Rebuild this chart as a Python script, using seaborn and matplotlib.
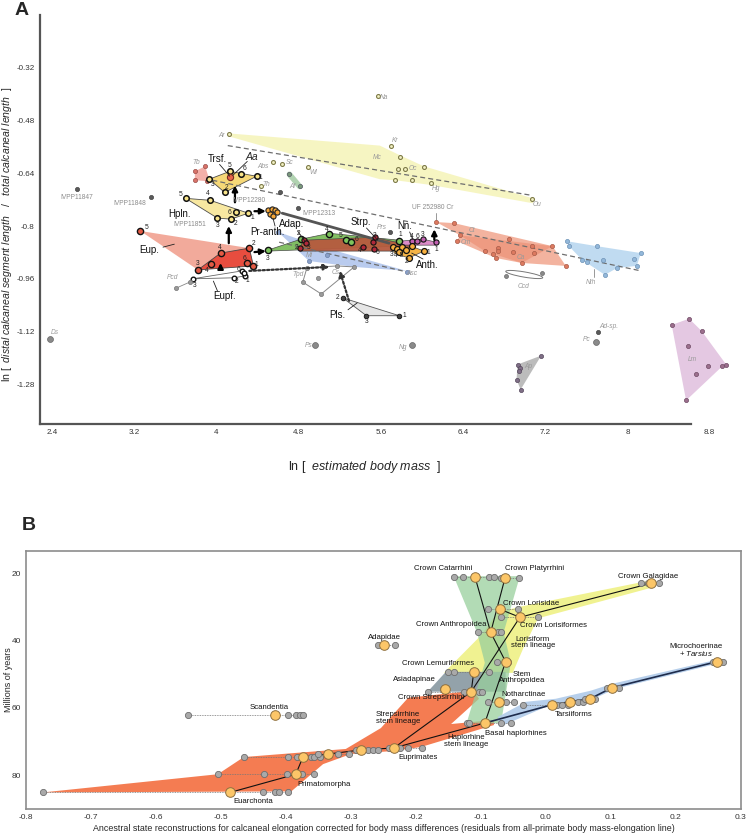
import matplotlib
matplotlib.use("Agg")
import matplotlib.pyplot as plt
from matplotlib.patches import Ellipse
import seaborn as sns

sns.set_theme(style="white")
plt.rcParams["font.family"] = ["Liberation Sans", "DejaVu Sans"]
plt.rcParams["mathtext.fontset"] = "custom"
plt.rcParams["mathtext.rm"] = "Liberation Sans"
plt.rcParams["mathtext.it"] = "Liberation Sans:italic"

# ---------------- panel A data (ln body mass vs ln elongation) ----------------
omo_hull_x = [4.12, 5.59, 5.79, 6.02, 7.08, 7.08, 6.10, 5.74, 5.59, 4.12]
omo_hull_y = [-0.519, -0.556, -0.586, -0.619, -0.716, -0.731, -0.676, -0.661, -0.658, -0.528]
omo_x = [4.12, 4.55, 4.64, 4.89, 5.57, 5.70, 5.79, 5.77, 5.83, 6.02, 5.74, 5.90, 6.09, 7.07, 4.43]
omo_y = [-0.522, -0.607, -0.613, -0.622, -0.405, -0.556, -0.592, -0.628, -0.628, -0.622,
         -0.661, -0.661, -0.670, -0.719, -0.680]

omo_fit_x = [4.11, 7.07]
omo_fit_y = [-0.556, -0.707]
all_fit_x = [3.96, 8.13]
all_fit_y = [-0.661, -0.936]
mi_fit_x = [4.61, 5.85]
mi_fit_y = [-0.849, -0.939]

ct_hull_x = [6.14, 6.31, 7.27, 7.40, 6.97, 6.72, 6.34, 6.37]
ct_hull_y = [-0.788, -0.791, -0.861, -0.921, -0.912, -0.897, -0.846, -0.828]
ct_core_x = [6.37, 7.27, 6.97, 6.61]
ct_core_y = [-0.828, -0.861, -0.912, -0.876]
ct_x = ct_hull_x + [6.85, 6.74, 6.74, 6.61, 6.69, 6.89, 7.07, 7.09]
ct_y = ct_hull_y + [-0.840, -0.867, -0.876, -0.876, -0.885, -0.879, -0.861, -0.882]

nth_hull_x = [7.41, 7.70, 8.13, 8.09, 7.90, 7.78, 7.56, 7.43]
nth_hull_y = [-0.846, -0.861, -0.882, -0.921, -0.927, -0.948, -0.903, -0.861]
nth_x = nth_hull_x + [8.06, 7.76, 7.61]
nth_y = nth_hull_y + [-0.900, -0.903, -0.909]

lm_hull_x = [8.43, 8.60, 8.72, 8.96, 8.92, 8.57]
lm_hull_y = [-1.100, -1.081, -1.118, -1.220, -1.226, -1.329]
lm_x = lm_hull_x + [8.59, 8.78, 8.67]
lm_y = lm_hull_y + [-1.163, -1.226, -1.250]

ap_hull_x = [6.93, 7.16, 6.96, 6.92]
ap_hull_y = [-1.220, -1.193, -1.296, -1.266]
ap_x = ap_hull_x + [6.95, 6.94]
ap_y = ap_hull_y + [-1.232, -1.241]

ccd_x = [6.82, 7.17]
ccd_y = [-0.951, -0.942]

solo_x = [7.71, 5.69, 2.64, 3.36, 4.62, 4.79]
solo_y = [-1.121, -0.818, -0.689, -0.713, -0.698, -0.746]
big_solo_x = [7.69, 5.90, 4.96, 2.38]
big_solo_y = [-1.151, -1.160, -1.160, -1.142]

tb_x = [3.79, 3.89, 3.93, 3.91, 3.79]
tb_y = [-0.634, -0.619, -0.658, -0.664, -0.661]
af_x = [4.71, 4.81]
af_y = [-0.643, -0.680]

trsf_hull_x = [3.93, 4.13, 4.39, 4.08]
trsf_hull_y = [-0.658, -0.634, -0.649, -0.698]
trsf_x = [3.93, 4.13, 4.24, 4.39, 4.08]
trsf_y = [-0.658, -0.634, -0.643, -0.649, -0.698]
aa_x = [4.13]
aa_y = [-0.652]

hpln_hull_x = [3.70, 3.94, 4.31, 4.14, 4.01]
hpln_hull_y = [-0.716, -0.722, -0.761, -0.779, -0.776]
hpln_x = [3.70, 3.94, 4.19, 4.31, 4.14, 4.01]
hpln_y = [-0.716, -0.722, -0.758, -0.761, -0.779, -0.776]

pra_x = [4.50, 4.54, 4.57, 4.52, 4.55, 4.59]
pra_y = [-0.752, -0.749, -0.752, -0.764, -0.770, -0.758]

eup_hull_x = [3.26, 4.32, 4.36, 3.82]
eup_hull_y = [-0.815, -0.867, -0.921, -0.933]
eupr_hull_x = [3.82, 4.04, 4.32, 4.36]
eupr_hull_y = [-0.933, -0.882, -0.867, -0.921]
eup_x = [3.26, 4.32, 4.36, 3.82, 4.04, 4.30, 3.95]
eup_y = [-0.815, -0.867, -0.921, -0.933, -0.882, -0.912, -0.915]

eupf_x = [3.77, 4.25, 4.28, 4.17, 4.27]
eupf_y = [-0.960, -0.936, -0.951, -0.957, -0.942]
pcd_x = [3.61, 3.74, 3.77]
pcd_y = [-0.988, -0.970, -0.960]

adap_hull_x = [4.50, 4.82, 5.10, 5.78, 5.78, 4.50]
adap_hull_y = [-0.873, -0.840, -0.822, -0.843, -0.861, -0.876]
adap_x = [4.50, 4.82, 5.10, 5.26, 5.31, 5.78]
adap_y = [-0.873, -0.840, -0.825, -0.843, -0.849, -0.846]

strp_hull_x = [4.81, 4.85, 5.53, 5.88, 5.88, 4.81]
strp_hull_y = [-0.867, -0.843, -0.834, -0.858, -0.876, -0.876]
strp_x = [4.85, 4.87, 4.81, 5.43, 5.53, 5.52, 5.54]
strp_y = [-0.843, -0.852, -0.867, -0.864, -0.870, -0.849, -0.834]

nn_hull_x = [5.78, 6.01, 6.14, 6.14, 5.78]
nn_hull_y = [-0.846, -0.840, -0.849, -0.858, -0.858]
nn_x = [5.90, 5.95, 6.01, 6.14]
nn_y = [-0.846, -0.846, -0.840, -0.849]

anth_hull_x = [5.72, 5.92, 6.02, 5.87, 5.73]
anth_hull_y = [-0.864, -0.864, -0.876, -0.897, -0.882]
anth_x = [5.72, 5.76, 5.81, 5.78, 5.84, 5.87, 6.02, 5.90]
anth_y = [-0.864, -0.870, -0.864, -0.879, -0.873, -0.897, -0.876, -0.861]

mi_hull_x = [4.60, 5.00, 5.85, 5.34, 4.90]
mi_hull_y = [-0.818, -0.861, -0.936, -0.924, -0.906]
mi_x = [4.60, 4.90, 5.08, 5.85]
mi_y = [-0.818, -0.906, -0.888, -0.939]

tpd_x = [4.88, 5.17, 5.34, 5.02, 4.84]
tpd_y = [-0.927, -0.921, -0.924, -1.006, -0.970]
tpd_in_x = [4.99]
tpd_in_y = [-0.957]

pls_x = [5.23, 5.78, 5.46]
pls_y = [-1.018, -1.072, -1.072]

arrow_x0 = [4.18, 4.12, 4.37, 4.37, 6.12, 4.04]
arrow_y0 = [-0.728, -0.852, -0.755, -0.879, -0.842, -0.932]
arrow_x1 = [4.18, 4.12, 4.48, 4.48, 6.12, 4.04]
arrow_y1 = [-0.677, -0.800, -0.755, -0.876, -0.810, -0.912]

dot_arrow_x0 = [4.32, 5.29]
dot_arrow_y0 = [-0.936, -1.027]
dot_arrow_x1 = [5.10, 5.20]
dot_arrow_y1 = [-0.924, -0.936]

thick_x = [4.64, 5.68]
thick_y = [-0.761, -0.852]

lead_x0 = [4.03, 4.30, 4.01, 4.79, 5.46, 5.88, 6.01, 4.57, 3.48, 5.28]
lead_y0 = [-0.613, -0.604, -0.997, -0.815, -0.806, -0.818, -0.900, -0.800, -0.864, -1.054]
lead_x1 = [4.13, 4.16, 3.97, 4.86, 5.57, 5.91, 5.90, 4.55, 3.59, 5.37]
lead_y1 = [-0.649, -0.646, -0.967, -0.846, -0.843, -0.840, -0.882, -0.776, -0.855, -1.033]

clade_lab = ["Trsf.", "Hpln.", "Pr-anth.", "Adap.", "Strp.", "Nn.", "Anth.", "Eup.", "Eupf.", "Pls."]
clade_lab_x = [4.01, 3.64, 4.50, 4.73, 5.40, 5.83, 6.05, 3.35, 4.08, 5.18]
clade_lab_y = [-0.598, -0.764, -0.818, -0.795, -0.788, -0.800, -0.918, -0.873, -1.012, -1.069]

num_lab = ["5", "6", "1", "3", "2",
           "5", "4", "6", "1", "2", "3",
           "5", "2", "4", "6", "1", "3", "4",
           "6", "2", "1", "3",
           "3", "2", "4", "5", "6", "2", "3", "4", "6", "2",
           "1", "4", "6", "3", "1",
           "3", "4 5", "2", "1",
           "2", "3", "1"]
num_x = [4.13, 4.27, 4.43, 3.96, 4.10,
         3.65, 3.92, 4.13, 4.35, 4.19, 4.01,
         3.32, 4.36, 4.03, 4.27, 4.39, 3.82, 3.91,
         4.21, 4.20, 4.30, 3.79,
         4.50, 4.80, 5.07, 5.21, 5.36, 4.78, 4.90, 5.39, 5.57, 5.54,
         5.79, 5.90, 5.96, 6.01, 6.14,
         5.70, 5.77, 5.85, 6.06,
         5.18, 5.46, 5.83]
num_y = [-0.616, -0.625, -0.652, -0.674, -0.683,
         -0.704, -0.701, -0.758, -0.773, -0.792, -0.798,
         -0.803, -0.852, -0.864, -0.897, -0.918, -0.915, -0.936,
         -0.933, -0.967, -0.964, -0.980,
         -0.897, -0.822, -0.809, -0.828, -0.840, -0.864, -0.864, -0.873, -0.879, -0.829,
         -0.825, -0.831, -0.831, -0.825, -0.870,
         -0.885, -0.888, -0.909, -0.879,
         -1.018, -1.090, -1.072]

taxon_lab = ["Na", "Kr", "Mc", "Oc", "Hg", "Ou", "Ar", "Abs", "Sc", "Wi", "Th", "Af", "Tb",
             "Ct", "Cm", "Ca", "Nth", "Ccd", "Lm", "Ap", "Ad-sp.", "Pc", "Ng", "Ps", "Ds",
             "Prs", "Mi", "Asc", "Tpd", "Cs", "Pcd"]
taxon_x = [5.63, 5.74, 5.56, 5.91, 6.14, 7.12, 4.05, 4.45, 4.71, 4.94, 4.48, 4.74, 3.80,
           6.49, 6.43, 6.96, 7.64, 6.99, 8.63, 7.03, 7.82, 7.60, 5.82, 4.90, 2.43,
           5.61, 4.90, 5.90, 4.79, 5.16, 3.57]
taxon_y = [-0.411, -0.541, -0.592, -0.625, -0.686, -0.734, -0.525, -0.619, -0.607, -0.637,
           -0.674, -0.680, -0.607, -0.815, -0.849, -0.894, -0.970, -0.984, -1.205, -1.226,
           -1.106, -1.145, -1.169, -1.163, -1.124, -0.805, -0.888, -0.945, -0.948, -0.942,
           -0.957]

spec_lab = ["IVPP11847", "IVPP11848", "IVPP12280", "IVPP12313", "IVPP11851", "UF 252980 Cr"]
spec_x = [2.64, 3.16, 4.32, 5.00, 3.74, 6.10]
spec_y = [-0.713, -0.731, -0.722, -0.761, -0.795, -0.743]

a_xticks = [2.4, 3.2, 4, 4.8, 5.6, 6.4, 7.2, 8, 8.8]
a_xticklabels = ["2.4", "3.2", "4", "4.8", "5.6", "6.4", "7.2", "8", "8.8"]
a_yticks = [-0.32, -0.48, -0.64, -0.8, -0.96, -1.12, -1.28]
a_yticklabels = ["-0.32", "-0.48", "-0.64", "-0.8", "-0.96", "-1.12", "-1.28"]

# ---------------- panel B data (ancestral state reconstructions) ----------------
node_name = ["Euarchonta", "Primatomorpha", "", "", "", "Euprimates", "Scandentia",
             "Adapidae", "Crown Catarrhini", "Crown Platyrrhini", "Crown Lorisidae",
             "Crown Lorisiformes", "Crown Galagidae", "Crown Anthropoidea",
             "Stem Anthropoidea", "Crown Lemuriformes", "Asiadapinae", "Crown Strepsirrhini",
             "Notharctinae", "Basal haplorhines", "Tarsiiforms", "", "", "", "Microchoerinae"]
node_x = [-0.486, -0.385, -0.374, -0.335, -0.285, -0.234, -0.417, -0.249, -0.109, -0.063,
          -0.071, -0.040, 0.162, -0.085, -0.062, -0.111, -0.155, -0.115, -0.072, -0.094,
          0.009, 0.037, 0.068, 0.102, 0.263]
node_y = [85.1, 79.7, 74.6, 73.7, 72.5, 71.9, 62.1, 41.2, 21.2, 21.5, 30.7, 33.1, 23.0,
          37.6, 46.3, 49.3, 54.3, 55.2, 58.2, 64.5, 59.1, 58.2, 57.3, 54.0, 46.3]
tip_x = [[-0.774, -0.435, -0.417, -0.411, -0.397],
         [-0.505, -0.434, -0.398, -0.375, -0.357],
         [-0.465, -0.397, -0.383, -0.362, -0.357, -0.348],
         [-0.351, -0.320, -0.303],
         [-0.292, -0.274, -0.266, -0.258],
         [-0.242, -0.225, -0.212, -0.191],
         [-0.551, -0.397, -0.385, -0.378, -0.374],
         [-0.258, -0.232],
         [-0.142, -0.128, -0.088, -0.080],
         [-0.069, -0.042],
         [-0.089, -0.043],
         [-0.069, -0.012],
         [0.146, 0.157, 0.174],
         [-0.105, -0.074, -0.069],
         [-0.075, -0.058],
         [-0.151, -0.142, -0.088],
         [-0.158],
         [-0.182, -0.126, -0.103, -0.098],
         [-0.089, -0.062, -0.049],
         [-0.122, -0.118, -0.069, -0.054],
         [-0.035, 0.017, 0.025, 0.034],
         [0.049, 0.057],
         [0.060, 0.075],
         [0.094, 0.112],
         [0.257, 0.272]]
edge_from = [0, 1, 2, 3, 4, 5, 5, 17, 17, 11, 11, 19, 14, 13, 13, 19, 20, 21, 22, 23]
edge_to = [1, 2, 3, 4, 5, 17, 19, 15, 11, 10, 12, 14, 13, 8, 9, 20, 21, 22, 23, 24]

orange_x = [-0.774, -0.505, -0.465, -0.308, -0.254, -0.212, -0.111, -0.103, -0.146, -0.080,
            -0.080, -0.192, -0.234, -0.300, -0.343, -0.392]
orange_y = [85.1, 79.7, 74.6, 72.2, 66.0, 57.0, 54.9, 57.3, 64.8, 63.6, 65.1, 71.6, 72.8,
            73.7, 76.7, 84.8]
yellow_x = [-0.157, -0.100, -0.074, -0.038, 0.162, 0.165, -0.012, -0.035, -0.051]
yellow_y = [49.6, 38.5, 31.6, 29.9, 22.1, 24.2, 33.4, 42.4, 49.6]
slate_x = [-0.182, -0.154, -0.062, -0.062]
slate_y = [55.2, 49.3, 49.3, 55.2]
green_x = [-0.142, -0.040, -0.065, -0.054, -0.069, -0.122, -0.094, -0.106]
green_y = [20.9, 20.9, 37.6, 46.6, 64.5, 64.5, 46.6, 37.6]
blue_x = [-0.072, 0.000, 0.077, 0.108, 0.263, 0.263, 0.103, 0.069, 0.015, -0.031, -0.074]
blue_y = [65.7, 59.7, 57.0, 54.3, 46.9, 45.7, 52.8, 54.9, 57.3, 58.2, 62.7]

b_lab = ["Crown Catarrhini", "Crown Platyrrhini", "Crown Galagidae", "Crown Lorisidae",
         "Crown Lorisiformes", "Crown Anthropoidea", "Lorisiform\nstem lineage", "Adapidae",
         "Microchoerinae", "+ $\\mathit{Tarsius}$", "Crown Lemuriformes", "Stem\nAnthropoidea",
         "Asiadapinae", "Crown Strepsirrhini", "Notharctinae", "Strepsirrhine\nstem lineage",
         "Tarsiiforms", "Basal haplorhines", "Haplorhine\nstem lineage", "Euprimates",
         "Scandentia", "Primatomorpha", "Euarchonta"]
b_lab_x = [-0.158, -0.018, 0.157, -0.023, 0.011, -0.146, -0.020, -0.249, 0.231, 0.231,
           -0.166, -0.037, -0.202, -0.177, -0.034, -0.228, 0.043, -0.046, -0.123, -0.197,
           -0.426, -0.342, -0.451]
b_lab_y = [18.5, 18.5, 20.9, 29.0, 35.5, 35.2, 40.6, 39.1, 41.8, 43.9, 46.9, 51.0, 51.6,
           57.0, 56.1, 63.0, 62.1, 67.5, 69.9, 74.6, 60.0, 82.7, 87.8]

b_xticks = [-0.8, -0.7, -0.6, -0.5, -0.4, -0.3, -0.2, -0.1, 0, 0.1, 0.2, 0.3]
b_xticklabels = ["-0.8", "-0.7", "-0.6", "-0.5", "-0.4", "-0.3", "-0.2", "-0.1", "0.0",
                 "0.1", "0.2", "0.3"]
b_yticks = [20, 40, 60, 80]


def hull(ax, xs, ys, color, alpha=1.0, edge="none", lw=0.6, z=1):
    ax.fill(xs, ys, facecolor=color, edgecolor=edge, alpha=alpha, lw=lw, zorder=z)


def dots(ax, xs, ys, face, edge, size, lw=0.6, z=4):
    sns.scatterplot(x=xs, y=ys, ax=ax, s=size, color=face, edgecolor=edge,
                    linewidth=lw, zorder=z, legend=False)


fig = plt.figure(figsize=(7.49, 8.36), dpi=100)
axA = fig.add_axes([0.053, 0.493, 0.922, 0.489])
axB = fig.add_axes([0.035, 0.032, 0.954, 0.309])

# ---------------- panel A ----------------
ax = axA
hull(ax, omo_hull_x, omo_hull_y, "#f4f2ae", 0.75)
hull(ax, ct_hull_x, ct_hull_y, "#f2a68e", 0.85)
hull(ax, ct_core_x, ct_core_y, "#ec8c70", 0.6)
hull(ax, nth_hull_x, nth_hull_y, "#b9d8f0", 0.9)
hull(ax, lm_hull_x, lm_hull_y, "#e3c5e1", 0.95)
hull(ax, ap_hull_x, ap_hull_y, "#b9b9b9", 0.95)
hull(ax, tb_x, tb_y, "#f2a8a0", 0.9)
hull(ax, trsf_hull_x, trsf_hull_y, "#f6d670", 0.95, edge="#444", lw=0.6)
hull(ax, hpln_hull_x, hpln_hull_y, "#f8e79c", 0.95, edge="#444", lw=0.6)
hull(ax, eup_hull_x, eup_hull_y, "#f2a696", 0.95)
hull(ax, eupr_hull_x, eupr_hull_y, "#e8483a", 0.95, edge="#444", lw=0.6)
hull(ax, mi_hull_x, mi_hull_y, "#a8bfea", 0.8)
hull(ax, adap_hull_x, adap_hull_y, "#7cbd5c", 0.95, edge="#444", lw=0.5, z=2)
hull(ax, strp_hull_x, strp_hull_y, "#b65a3e", 0.95, edge="#444", lw=0.5, z=2)
hull(ax, nn_hull_x, nn_hull_y, "#d985c6", 0.95, edge="#444", lw=0.5, z=2)
hull(ax, anth_hull_x, anth_hull_y, "#f5b03c", 0.95, edge="#444", lw=0.5, z=2)
hull(ax, pls_x, pls_y, "#e6e6e6", 1.0, edge="#555", lw=0.6)
hull(ax, tpd_x, tpd_y, "none", 1.0, edge="#888", lw=0.7)
hull(ax, eupf_x[:4], eupf_y[:4], "none", 1.0, edge="#666", lw=0.6)
ax.plot(pcd_x, pcd_y, color="#888", lw=0.6, zorder=2)
ax.plot(af_x, af_y, color="#8fc08f", lw=4, alpha=0.7, solid_capstyle="round", zorder=2)
ax.add_patch(Ellipse((6.995, -0.947), 0.36, 0.016, angle=-3, facecolor="none",
                     edgecolor="#777", lw=0.7, zorder=2))

for fx, fy in [(omo_fit_x, omo_fit_y), (all_fit_x, all_fit_y), (mi_fit_x, mi_fit_y)]:
    ax.plot(fx, fy, ls=(0, (4, 2.5)), color="#6e6e6e", lw=0.9, zorder=3)
ax.plot(thick_x, thick_y, color="#555", lw=2.0, zorder=3)

dots(ax, omo_x, omo_y, "#f3f1c4", "#7d7a48", 8, 0.8)
dots(ax, ct_x, ct_y, "#dd7a60", "#a65a48", 9, 0.5)
dots(ax, nth_x, nth_y, "#93b8da", "#6d92b6", 9, 0.5)
dots(ax, lm_x, lm_y, "#9c6f8d", "#6e4a64", 9, 0.5)
dots(ax, ap_x, ap_y, "#7f6f86", "#55475c", 9, 0.5)
dots(ax, ccd_x, ccd_y, "#8a8a8a", "#666", 8, 0.5)
dots(ax, solo_x, solo_y, "#5a5a5a", "#444", 9, 0.5)
dots(ax, big_solo_x, big_solo_y, "#8a8a8a", "#666", 18, 0.5)
dots(ax, tb_x[:2] + tb_x[3:], tb_y[:2] + tb_y[3:], "#d9736a", "#9a4e48", 9, 0.5)
dots(ax, af_x, af_y, "#7a9a7a", "#556", 9, 0.5)
dots(ax, trsf_x, trsf_y, "#f8e48a", "#111", 16, 1.1)
dots(ax, aa_x, aa_y, "#e8664a", "#7a2a20", 20, 0.8)
dots(ax, hpln_x, hpln_y, "#f8e48a", "#111", 16, 1.1)
dots(ax, pra_x, pra_y, "#f6a838", "#222", 14, 0.8)
dots(ax, eup_x, eup_y, "#e45a44", "#111", 20, 1.0)
dots(ax, eupf_x, eupf_y, "white", "#111", 11, 1.0)
dots(ax, pcd_x[:2], pcd_y[:2], "#9a9a9a", "#777", 9, 0.5)
dots(ax, mi_x, mi_y, "#8aa0c8", "#6a80a8", 9, 0.5)
dots(ax, adap_x, adap_y, "#7cc45c", "#111", 20, 1.0, z=5)
dots(ax, strp_x, strp_y, "#b0283a", "#111", 14, 0.8, z=5)
dots(ax, nn_x, nn_y, "#c060b0", "#111", 14, 0.8, z=5)
dots(ax, anth_x, anth_y, "#f7b040", "#111", 18, 0.9, z=6)
dots(ax, tpd_x + tpd_in_x, tpd_y + tpd_in_y, "#9a9a9a", "#777", 9, 0.5)
dots(ax, pls_x, pls_y, "#444", "#111", 11, 0.6)

for x0, y0, x1, y1 in zip(arrow_x0, arrow_y0, arrow_x1, arrow_y1):
    ax.annotate("", xy=(x1, y1), xytext=(x0, y0),
                arrowprops=dict(arrowstyle="-|>", color="black", lw=1.6,
                                mutation_scale=8, shrinkA=0, shrinkB=0), zorder=7)
for x0, y0, x1, y1 in zip(dot_arrow_x0, dot_arrow_y0, dot_arrow_x1, dot_arrow_y1):
    ax.annotate("", xy=(x1, y1), xytext=(x0, y0),
                arrowprops=dict(arrowstyle="-|>", color="#333", lw=1.6, ls=(0, (1, 1)),
                                mutation_scale=8, shrinkA=0, shrinkB=0), zorder=7)
for x0, y0, x1, y1 in zip(lead_x0, lead_y0, lead_x1, lead_y1):
    ax.plot([x0, x1], [y0, y1], color="#222", lw=0.6, zorder=6)
ax.plot([6.14, 6.14], [-0.761, -0.785], color="#888", lw=0.6)
ax.plot([7.67, 7.67], [-0.930, -0.954], color="#888", lw=0.6)

for t, x, y in zip(clade_lab, clade_lab_x, clade_lab_y):
    ax.text(x, y, t, fontsize=7, ha="center", va="center", color="#111", zorder=8)
ax.text(4.34, -0.592, "Aa", fontsize=7.5, style="italic", ha="center", va="center", zorder=8)
for t, x, y in zip(num_lab, num_x, num_y):
    ax.text(x, y, t, fontsize=4.8, ha="center", va="center", color="#222", zorder=8)
for t, x, y in zip(taxon_lab, taxon_x, taxon_y):
    ax.text(x, y, t, fontsize=4.8, style="italic", ha="center", va="center", color="#999",
            zorder=8)
for t, x, y in zip(spec_lab, spec_x, spec_y):
    ax.text(x, y, t, fontsize=4.8, ha="center", va="center", color="#8c8c8c", zorder=8)

ax.set_xlim(2.28, 9.0)
ax.set_ylim(-1.40, -0.16)
ax.set_xticks(a_xticks, a_xticklabels)
ax.set_yticks(a_yticks, a_yticklabels)
for side in ["top", "right"]:
    ax.spines[side].set_visible(False)
for side in ["left", "bottom"]:
    ax.spines[side].set_color("#555")
    ax.spines[side].set_linewidth(1.6)
ax.spines["bottom"].set_bounds(2.28, 8.62)
ax.tick_params(labelsize=5.8, labelcolor="#333", length=2, width=0.8, color="#555",
               direction="out", pad=1.5)

fig.text(0.487, 0.441, "ln [  $\\mathit{estimated\\ body\\ mass}$  ]", fontsize=9,
         ha="center", va="center")
fig.text(0.009, 0.72,
         "ln [  $\\mathit{distal\\ calcaneal\\ segment\\ length}$   /   "
         "$\\mathit{total\\ calcaneal\\ length}$  ]",
         fontsize=7.6, rotation=90, ha="center", va="center")
fig.text(0.02, 0.988, "A", fontsize=14, fontweight="bold", va="center")
fig.text(0.029, 0.372, "B", fontsize=14, fontweight="bold", va="center")

# ---------------- panel B ----------------
ax = axB
hull(ax, orange_x, orange_y, "#f47c52", 1.0)
hull(ax, yellow_x, yellow_y, "#eef07e", 0.85)
hull(ax, slate_x, slate_y, "#8d9da6", 0.95)
hull(ax, green_x, green_y, "#98cf9c", 0.75)
hull(ax, blue_x, blue_y, "#b3cdea", 0.95)

for nx, ny, tx in zip(node_x, node_y, tip_x):
    xs = tx + [nx]
    ax.plot([min(xs), max(xs)], [ny, ny], ls=(0, (1, 1)), color="#777", lw=0.6, zorder=3)
for i, j in zip(edge_from, edge_to):
    col = "#1e2c4c" if i >= 19 and j >= 20 else "#111"
    lw = 1.2 if col == "#1e2c4c" else 0.8
    ax.plot([node_x[i], node_x[j]], [node_y[i], node_y[j]], color=col, lw=lw, zorder=4)

gx = [x for tx in tip_x for x in tx]
gy = [y for tx, y in zip(tip_x, node_y) for _ in tx]
dots(ax, gx, gy, "#a9a9a9", "#6e6e6e", 20, 0.6, z=5)
dots(ax, node_x, node_y, "#fcc668", "#8e7040", 48, 0.7, z=6)

for t, x, y in zip(b_lab, b_lab_x, b_lab_y):
    ax.text(x, y, t, fontsize=5.6, ha="center", va="center", color="#111",
            linespacing=0.95, zorder=8)

ax.set_xlim(-0.8, 0.3)
ax.set_ylim(90.1, 13.4)
ax.set_xticks(b_xticks, b_xticklabels)
ax.set_yticks(b_yticks)
for side in ax.spines.values():
    side.set_color("#8c8c8c")
    side.set_linewidth(1.2)
ax.tick_params(labelsize=6, labelcolor="#333", length=2, width=0.7, color="#777",
               direction="out", pad=1.5)
ax.set_xlabel("Ancestral state reconstructions for calcaneal elongation corrected for body "
              "mass differences (residuals from all-primate body mass-elongation line)",
              fontsize=6.4, labelpad=2)
ax.set_ylabel("Millions of years", fontsize=6.5)
ax.yaxis.set_label_coords(-0.019, 0.5)

fig.savefig("out.png", dpi=100)
plt.close(fig)
